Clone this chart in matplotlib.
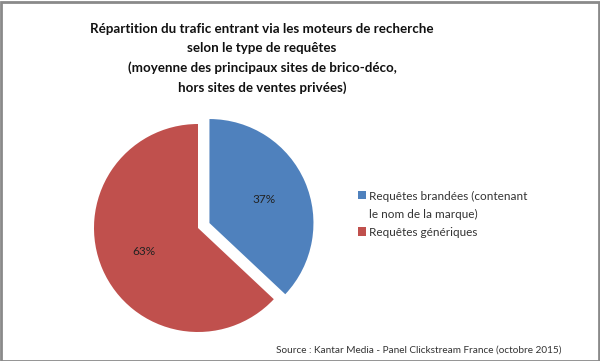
import matplotlib
matplotlib.use('Agg')
import matplotlib.pyplot as plt
from matplotlib.patches import Rectangle
import numpy as np

plt.rcParams['font.family'] = ['Lato', 'DejaVu Sans']

# data
labels = ['Requêtes brandées (contenant\nle nom de la marque)', 'Requêtes génériques']
values = [37, 63]
colors = ['#4F81BD', '#C0504D']
explode = [0.12, 0.0]

title = ('Répartition du trafic entrant via les moteurs de recherche\n'
         'selon le type de requêtes\n'
         '(moyenne des principaux sites de brico-déco,\n'
         'hors sites de ventes privées)')
source = 'Source : Kantar Media - Panel Clickstream France (octobre 2015)'

W, H = 600, 361
fig = plt.figure(figsize=(W / 100, H / 100), dpi=100)
fig.patch.set_facecolor('white')

# pie axes (pixel placement)
r_px = 104
cx, cy = 198, H - 228
ax = fig.add_axes([(cx - 1.2 * r_px) / W, (cy - 1.2 * r_px) / H,
                   2.4 * r_px / W, 2.4 * r_px / H])
wedges = ax.pie(values, colors=colors, explode=explode, startangle=90,
                counterclock=False, radius=1.0,
                wedgeprops=dict(linewidth=0))[0]
for w, v in zip(wedges, values):
    ang = np.deg2rad((w.theta1 + w.theta2) / 2)
    x0, y0 = w.center
    ax.text(x0 + 0.57 * np.cos(ang), y0 + 0.57 * np.sin(ang), '%d%%' % v,
            ha='center', va='center', fontsize=8.5, color='#222222')
ax.set_xlim(-1.2, 1.2)
ax.set_ylim(-1.2, 1.2)
ax.set_aspect('equal')
ax.axis('off')

fig.text(262 / W, 1 - 23 / H, title, ha='center', va='top', fontsize=9.6,
         fontweight='bold', linespacing=1.7, color='#111111')

leg = fig.legend(wedges, labels, loc='upper left', bbox_to_anchor=(353 / W, 1 - 186 / H),
                 frameon=False, fontsize=8.5, handlelength=0.7, handleheight=0.7,
                 handletextpad=0.25, labelspacing=0.6, borderaxespad=0)
for t in leg.get_texts():
    t.set_color('#333333')
    t.set_linespacing(1.75)
# put the marker next to the first line of a wrapped label (Excel style)
for col in leg._legend_handle_box.get_children():
    for row in col.get_children()[:1]:
        row.align = 'top'

fig.text(562 / W, 1 - 350 / H, source, ha='right', va='center', fontsize=7.2,
         color='#333333')

fig.patches.append(Rectangle((0.5 / W, 0.5 / H), 1 - 2 / W, 1 - 2 / H,
                             transform=fig.transFigure, fill=False,
                             edgecolor='#8a8a8a', linewidth=2))

fig.savefig('out.png', dpi=100)
